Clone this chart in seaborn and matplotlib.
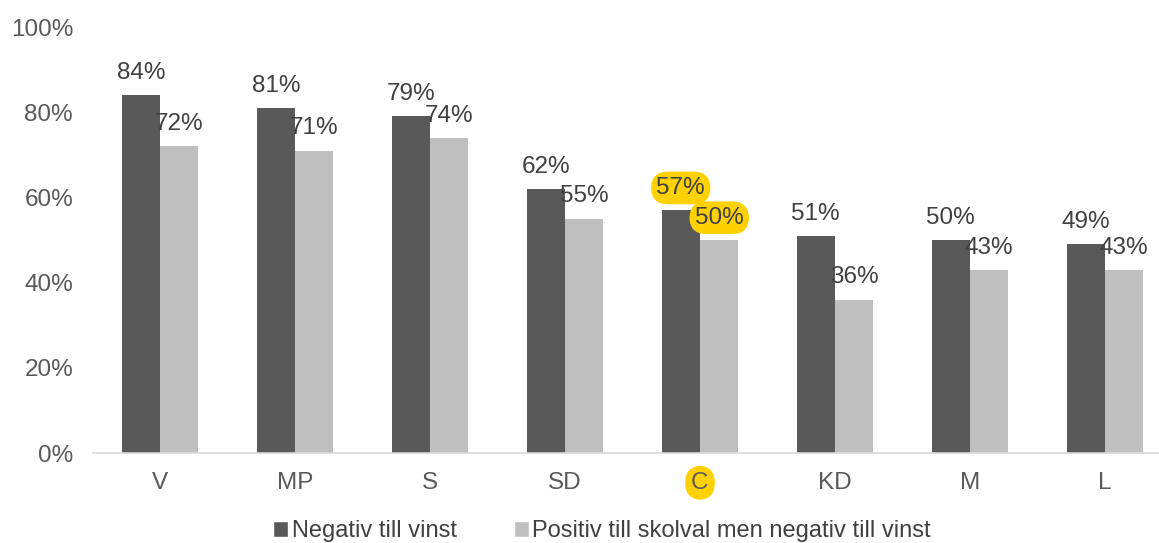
import pandas as pd
import numpy as np
import matplotlib
matplotlib.use('Agg')
import matplotlib.pyplot as plt
import seaborn as sns
from matplotlib.ticker import PercentFormatter
from matplotlib.patches import Patch

# data
parties = ['V', 'MP', 'S', 'SD', 'C', 'KD', 'M', 'L']
negativ_vinst = [0.84, 0.81, 0.79, 0.62, 0.57, 0.51, 0.50, 0.49]
positiv_skolval = [0.72, 0.71, 0.74, 0.55, 0.50, 0.36, 0.43, 0.43]
series_names = ['Negativ till vinst', 'Positiv till skolval men negativ till vinst']
highlight = 'C'

df = pd.DataFrame({
    'parti': parties * 2,
    'andel': negativ_vinst + positiv_skolval,
    'serie': [series_names[0]] * len(parties) + [series_names[1]] * len(parties),
})

sns.set_theme(style='white')
plt.rcParams['font.family'] = ['Liberation Sans', 'DejaVu Sans']

dark = '#595959'
light = '#BFBFBF'
yellow = '#FFD100'
text_col = '#404040'
fs = 17.5

fig = plt.figure(figsize=(11.59, 5.43), dpi=100)
ax = fig.add_axes([92.5 / 1159, 90 / 543, 1080 / 1159, 426 / 543])

sns.barplot(data=df, x='parti', y='andel', hue='serie', palette=[dark, light],
            width=0.57, gap=0, saturation=1, linewidth=0, legend=False, ax=ax)

ax.set_ylim(0, 1)
ax.set_xlim(-0.5, len(parties) - 0.5)
ax.set_yticks(np.arange(0, 1.01, 0.2))
ax.yaxis.set_major_formatter(PercentFormatter(1.0, decimals=0))
ax.set_xlabel('')
ax.set_ylabel('')
ax.tick_params(axis='y', length=0, pad=14, labelsize=fs, labelcolor=dark)
ax.tick_params(axis='x', length=0, pad=13.5, labelsize=fs, labelcolor=dark)

for s in ['top', 'right', 'left']:
    ax.spines[s].set_visible(False)
ax.spines['bottom'].set_color('#D9D9D9')
ax.spines['bottom'].set_linewidth(1.2)

# data labels
hi = parties.index(highlight)
for container in ax.containers:
    for i, bar in enumerate(container):
        h = bar.get_height()
        x = bar.get_x() + bar.get_width() / 2
        bbox = None
        if i == hi:
            bbox = dict(boxstyle='round,pad=0.22,rounding_size=0.7', fc=yellow, ec='none')
        ax.annotate(f'{h * 100:.0f}%', (x, h), xytext=(0, 16), textcoords='offset points',
                    ha='center', va='center', fontsize=fs, color=text_col, bbox=bbox)

for lbl in ax.get_xticklabels():
    if lbl.get_text() == highlight:
        lbl.set_bbox(dict(boxstyle='round,pad=0.25,rounding_size=0.7', fc=yellow, ec='none'))

handles = [Patch(facecolor=dark), Patch(facecolor=light)]
fig.legend(handles, series_names, loc='center', bbox_to_anchor=(602 / 1159, 1 - 531 / 543),
           ncol=2, frameon=False, fontsize=17, handlelength=0.65, handleheight=0.65,
           handletextpad=0.15, columnspacing=2.4, labelcolor=text_col)

fig.savefig('out.png', dpi=100)
